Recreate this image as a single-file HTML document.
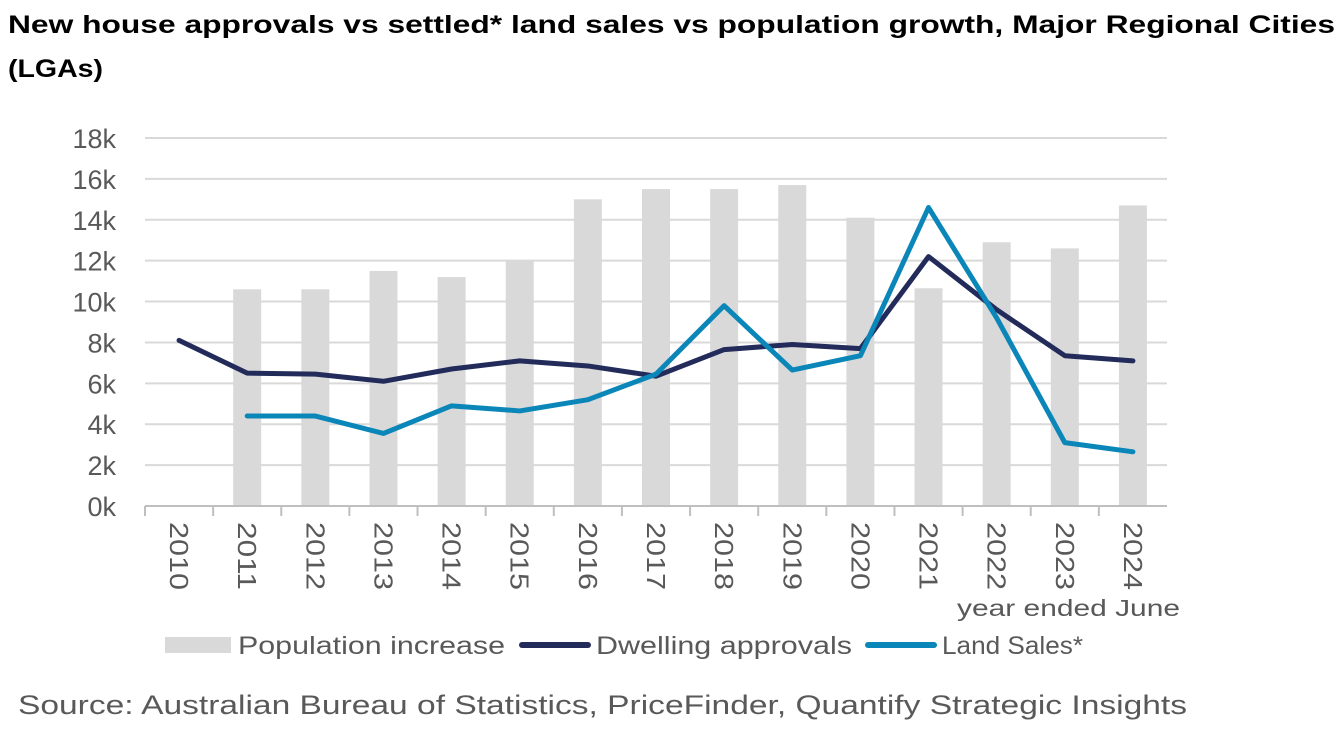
<!DOCTYPE html>
<html><head><meta charset="utf-8"><style>
body{margin:0;background:#fff;width:1341px;height:732px;overflow:hidden;font-family:"Liberation Sans",sans-serif}
svg{position:absolute;left:0;top:0}
</style></head><body>
<svg id="chart" width="1341" height="732" font-family="Liberation Sans, sans-serif">
<text x="8" y="33" font-size="25" font-weight="bold" fill="#000" textLength="1327" lengthAdjust="spacingAndGlyphs">New house approvals vs settled* land sales vs population growth, Major Regional Cities</text>
<text x="8" y="77" font-size="25" font-weight="bold" fill="#000" textLength="95" lengthAdjust="spacingAndGlyphs">(LGAs)</text>
<text x="18" y="714" font-size="27" fill="#595959" textLength="1169" lengthAdjust="spacingAndGlyphs">Source: Australian Bureau of Statistics, PriceFinder, Quantify Strategic Insights</text>
</svg>
<script>
const years=["2010","2011","2012","2013","2014","2015","2016","2017","2018","2019","2020","2021","2022","2023","2024"];
const population=[null,10.6,10.6,11.5,11.2,12.0,15.0,15.5,15.5,15.7,14.1,10.65,12.9,12.6,14.7];
const dwelling=[8.1,6.5,6.45,6.1,6.7,7.1,6.85,6.35,7.65,7.9,7.7,12.2,9.6,7.35,7.1];
const land=[null,4.4,4.4,3.55,4.9,4.65,5.2,6.45,9.8,6.65,7.35,14.6,9.2,3.1,2.65];
const yTicks=[0,2,4,6,8,10,12,14,16,18];
const NS="http://www.w3.org/2000/svg",svg=document.getElementById('chart');
const x0=145,x1=1167,y0=506,y1=138,ymax=18;
const bw=(x1-x0)/years.length;
const X=i=>x0+bw*(i+0.5),Y=v=>y0-(v/ymax)*(y0-y1);
function mk(t,a){const e=document.createElementNS(NS,t);for(const k in a)e.setAttribute(k,a[k]);svg.appendChild(e);return e;}
yTicks.forEach(t=>{
 if(t>0){const g=mk('line',{x1:x0,x2:x1,y1:Y(t),y2:Y(t),stroke:'#d9d9d9','stroke-width':2});
 
 }
 const l=mk('text',{x:116,y:Y(t)+10,'text-anchor':'end','font-size':27,fill:'#595959'});l.textContent=t+'k';
 
 
});
population.forEach((v,i)=>{if(v==null)return;
 const r=mk('rect',{x:X(i)-14,y:Y(v),width:28,height:y0-Y(v),fill:'#d9d9d9'});
 
 });
const ax=mk('line',{x1:x0,x2:x1,y1:y0,y2:y0,stroke:'#bfbfbf','stroke-width':2});


years.forEach((yr,i)=>{
 const tk=mk('line',{x1:x0+bw*i,x2:x0+bw*i,y1:y0,y2:y0+10,stroke:'#bfbfbf','stroke-width':2});
 
 
 const t=mk('text',{x:0,y:0,'font-size':26,fill:'#595959',textLength:68,lengthAdjust:'spacingAndGlyphs',transform:`translate(${X(i)-9},522) rotate(90)`});t.textContent=yr;
 
 
});
function line(arr,col,name){let d='';arr.forEach((v,i)=>{if(v==null)return;d+=(d?'L':'M')+X(i)+','+Y(v);});
 const p=mk('path',{d,fill:'none',stroke:col,'stroke-width':5,'stroke-linejoin':'round','stroke-linecap':'round'});
 
 }
line(dwelling,'#232b5a','line-dwelling-approvals');
line(land,'#0a86b8','line-land-sales');
const xt=mk('text',{x:957,y:616,'font-size':23,fill:'#595959',textLength:223,lengthAdjust:'spacingAndGlyphs'});xt.textContent='year ended June';


const leg=[['rect','#d9d9d9','Population increase',165,238,267],['line','#232b5a','Dwelling approvals',522,596,256],['line','#0a86b8','Land Sales*',868,942,141]];
leg.forEach(([k,c,txt,sx,tx,tl])=>{
 let m;if(k==='rect')m=mk('rect',{x:sx,y:637,width:66,height:16,fill:c});
 else m=mk('line',{x1:sx,x2:sx+66,y1:645,y2:645,stroke:c,'stroke-width':6,'stroke-linecap':'round'});
 
 
 const t=mk('text',{x:tx,y:654,'font-size':25,fill:'#595959',textLength:tl,lengthAdjust:'spacingAndGlyphs'});t.textContent=txt;
 
 
});
</script>
</body></html>
